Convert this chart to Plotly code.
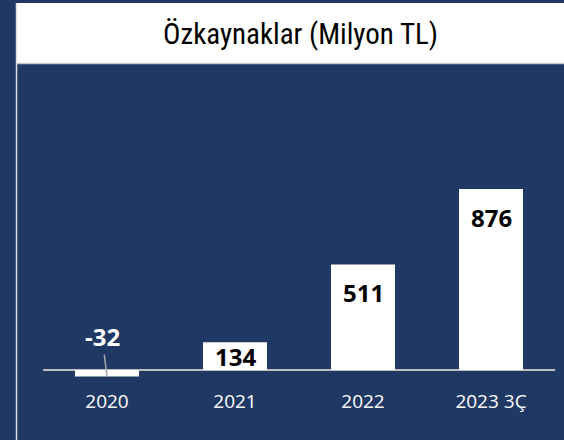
import plotly.graph_objects as go

# data
years = ["2020", "2021", "2022", "2023 3Ç"]
equity = [-32, 134, 511, 876]
title_text = "Özkaynaklar (Milyon TL)"

NAVY = "#1f3864"
W, H = 564, 440
ML, MT = 43, 80
plot_w, plot_h = 512, 298
MR = W - ML - plot_w
MB = H - MT - plot_h
y_range = [-38.7, 1403.5]
px_per_unit = plot_h / (y_range[1] - y_range[0])


def paper_x(px):
    return (px - ML) / plot_w


def paper_y(py):
    return (MT + plot_h - py) / plot_h


fig = go.Figure()
fig.add_trace(go.Bar(
    x=years, y=equity,
    marker=dict(color="white", line=dict(width=0)),
    hoverinfo="x+y",
))

# value labels (x given as category index)
for i, val in enumerate(equity):
    if val < 0:
        fig.add_annotation(
            x=i, y=val, text=f"<b>{val}</b>",
            showarrow=True, arrowhead=0, arrowwidth=1.5, arrowcolor="#a6a6a6",
            ax=-5, ay=-40, standoff=0,
            font=dict(family="Open Sans, Noto Sans, sans-serif", size=24, color="white"),
        )
    else:
        h = val * px_per_unit
        fig.add_annotation(
            x=i, y=val, text=f"<b>{val}</b>", showarrow=False,
            yanchor="middle", yshift=-min(28, h / 2),
            font=dict(family="Open Sans, Noto Sans, sans-serif", size=24, color="black"),
        )

# title band + frame line
fig.add_shape(type="rect", xref="paper", yref="paper",
              x0=paper_x(17), x1=paper_x(580), y0=paper_y(63), y1=paper_y(3),
              fillcolor="white", line=dict(width=0), layer="below")
fig.add_shape(type="line", xref="paper", yref="paper",
              x0=paper_x(17), x1=paper_x(580), y0=paper_y(63.5), y1=paper_y(63.5),
              line=dict(color="#c8c8c8", width=1.5))
fig.add_shape(type="line", xref="paper", yref="paper",
              x0=paper_x(16.5), x1=paper_x(16.5), y0=paper_y(3), y1=paper_y(460),
              line=dict(color="#e0e0e0", width=1.5))

fig.add_annotation(
    xref="paper", yref="paper", x=paper_x(300), y=paper_y(34),
    text=title_text, showarrow=False, xanchor="center", yanchor="middle",
    font=dict(family="Liberation Sans Narrow, Arial Narrow, Roboto Condensed, Liberation Sans, sans-serif",
              size=29, color="black"),
)

fig.update_layout(
    width=W, height=H,
    margin=dict(l=ML, r=MR, t=MT, b=MB),
    paper_bgcolor=NAVY, plot_bgcolor=NAVY,
    bargap=0.5, showlegend=False,
    xaxis=dict(type="category", categoryorder="array", categoryarray=years,
               range=[-0.5, len(years) - 0.5], autorange=False,
               showgrid=False, showline=False, ticks="",
               ticklabelstandoff=10,
               tickfont=dict(family="Open Sans, Noto Sans, sans-serif", size=19, color="white")),
    yaxis=dict(range=y_range, autorange=False, showgrid=False, showticklabels=False,
               zeroline=True, zerolinecolor="#bfbfbf", zerolinewidth=1.5),
)

# drop the default page margin so the figure sits at the window's corner
fig.write_html("out.html", config={"displayModeBar": False},
               post_script="document.body.style.margin='0';")
